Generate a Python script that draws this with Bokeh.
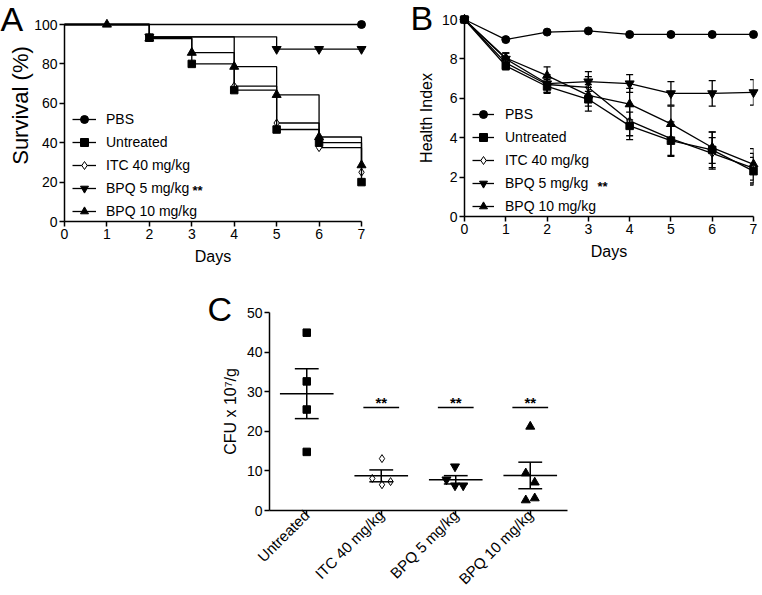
import math
from bokeh.plotting import figure
from bokeh.models import (ColumnDataSource, Legend, LegendItem, Whisker, TeeHead,
                          FixedTicker, Range1d, Spacer)
from bokeh.layouts import column, row
from bokeh.embed import file_html
from bokeh.resources import INLINE
from bokeh.core.properties import value

FONT = "Liberation Sans"

# ---------------- Panel A: survival (%) ----------------
days = [0, 1, 2, 3, 4, 5, 6, 7]
series_labels = ["PBS", "Untreated", "ITC 40 mg/kg", "BPQ 5 mg/kg", "BPQ 10 mg/kg"]
surv_pbs = [100, 100, 100, 100, 100, 100, 100, 100]
surv_unt = [100, 100, 93.3, 80.0, 66.7, 46.7, 40.0, 20.0]
surv_itc = [100, 100, 93.75, 93.75, 68.75, 50.0, 37.5, 25.0]
surv_bpq5 = [100, 100, 93.75, 93.75, 93.75, 87.5, 87.5, 87.5]
surv_bpq10 = [100, 100, 92.9, 85.7, 78.6, 64.3, 42.9, 28.6]
mark_days_pbs = [7]
mark_days_unt = [2, 3, 4, 5, 6, 7]
mark_days_itc = [2, 4, 5, 6, 7]
mark_days_bpq5 = [2, 5, 6, 7]
mark_days_bpq10 = [1, 2, 3, 4, 5, 6, 7]
surv_ticks = [0, 20, 40, 60, 80, 100]

# ---------------- Panel B: health index ----------------
hi_pbs = [10, 8.98, 9.36, 9.42, 9.24, 9.24, 9.24, 9.24]
hi_unt = [10, 7.65, 6.6, 5.95, 4.6, 3.85, 3.38, 2.3]
hi_unt_err = [0, 0.2, 0.35, 0.6, 0.7, 0.8, 0.9, 0.7]
hi_itc = [10, 7.8, 6.7, 6.55, 4.85, 3.95, 3.2, 2.45]
hi_itc_err = [0, 0.2, 0.4, 0.55, 0.75, 0.85, 0.8, 0.75]
hi_bpq5 = [10, 8.0, 6.75, 6.85, 6.75, 6.25, 6.25, 6.3]
hi_bpq5_err = [0, 0.3, 0.45, 0.5, 0.45, 0.6, 0.65, 0.65]
hi_bpq10 = [10, 8.05, 7.15, 6.15, 5.7, 4.7, 3.5, 2.65]
hi_bpq10_err = [0, 0.25, 0.45, 0.55, 0.8, 0.9, 0.8, 0.8]
hi_ticks = [0, 2, 4, 6, 8, 10]

# ---------------- Panel C: CFU ----------------
groups = ["Untreated", "ITC 40 mg/kg", "BPQ 5 mg/kg", "BPQ 10 mg/kg"]
cfu_unt = [44.9, 32.6, 25.5, 14.8]
cfu_itc = [13.1, 8.1, 6.5, 7.3]
cfu_bpq5 = [11.1, 7.8, 6.3, 6.3]
cfu_bpq10 = [21.2, 9.4, 7.1, 2.6, 3.1]
jit_unt = [0, 0, 0, 0]
jit_itc = [0.01, -0.12, 0.01, 0.125]
jit_bpq5 = [-0.01, -0.125, -0.01, 0.1]
jit_bpq10 = [0, -0.06, 0.06, -0.06, 0.06]
cfu_mean = [29.5, 8.75, 7.75, 8.85]
cfu_sem = [6.3, 1.5, 1.05, 3.35]
sig_groups = [1, 2, 3]
sig_level = [26.0, 26.0, 26.0]
sig_text = ["**", "**", "**"]
cfu_ticks = [0, 10, 20, 30, 40, 50]

MARKERS = [
    dict(marker="circle", size=8, fill_color="black"),
    dict(marker="square", size=7.5, fill_color="black"),
    dict(marker="diamond", size=8, fill_color="white"),
    dict(marker="inverted_triangle", size=9, fill_color="black"),
    dict(marker="triangle", size=9, fill_color="black"),
]


def style(p, xticks, yticks):
    for ax in p.axis:
        ax.axis_line_width = 1.5
        ax.axis_line_color = "black"
        ax.major_tick_line_width = 1.5
        ax.major_tick_line_color = "black"
        ax.major_tick_out = 5
        ax.major_tick_in = 0
        ax.minor_tick_out = 0
        ax.minor_tick_in = 0
        ax.major_label_text_font = FONT
        ax.major_label_text_font_size = "14px"
        ax.major_label_text_color = "black"
        ax.major_label_standoff = 2
        ax.axis_label_text_font = FONT
        ax.axis_label_text_font_size = "16px"
        ax.axis_label_text_font_style = "normal"
        ax.axis_label_text_color = "black"
        ax.axis_label_standoff = 6
    p.xaxis.ticker = FixedTicker(ticks=xticks)
    p.yaxis.ticker = FixedTicker(ticks=yticks)
    p.xgrid.visible = False
    p.ygrid.visible = False
    p.outline_line_color = None
    p.background_fill_color = None
    p.border_fill_color = None


def make_legend(items, x, y, glyph_w, standoff):
    return Legend(items=items, location=(x, y), padding=0, margin=0, spacing=3,
                  glyph_width=glyph_w, glyph_height=20, label_height=20,
                  label_standoff=standoff, border_line_color=None,
                  background_fill_alpha=0, label_text_font=FONT,
                  label_text_font_size="14px", label_text_color="black")


def to_data(geom, px, py):
    """convert a pixel position on the panel canvas to data units of that panel"""
    fl, fb, fw, fh, x0, x1, y0, y1 = geom
    return (x0 + (px - fl) * (x1 - x0) / fw, y0 + (fb - py) * (y1 - y0) / fh)


def add_text(p, geom, txt, px, py, size, bold=False, angle=0.0, align="left", baseline="alphabetic"):
    x, y = to_data(geom, px, py)
    p.text(x=[x], y=[y], text=[txt], text_font=value(FONT), text_font_size=size,
           text_font_style="bold" if bold else "normal", text_color="black",
           text_baseline=baseline, text_align=align, angle=angle, level="overlay")


# ================= Panel A =================
# frame: left 64, top 24, 297 x 197 on a 400 x 290 canvas
geomA = (64, 221, 297, 197, 0, 7, 0, 100)
pA = figure(frame_width=297, frame_height=197, x_range=Range1d(0, 7), y_range=Range1d(0, 100),
            min_border_left=64, min_border_right=39, min_border_top=24, min_border_bottom=69,
            output_backend="svg", toolbar_location=None)
style(pA, days, surv_ticks)
pA.xaxis.axis_label = "Days"

surv_all = [surv_pbs, surv_unt, surv_itc, surv_bpq5, surv_bpq10]
mark_all = [mark_days_pbs, mark_days_unt, mark_days_itc, mark_days_bpq5, mark_days_bpq10]
itemsA = {}
for i in [0, 3, 4, 2, 1]:
    r = pA.step(days, surv_all[i], mode="after", line_width=1.3, line_color="black", level="overlay")
    md = mark_all[i]
    s = pA.scatter(md, [surv_all[i][d] for d in md], line_color="black", line_width=1,
                   level="overlay", **MARKERS[i])
    itemsA[i] = LegendItem(label=series_labels[i], renderers=[r, s])
pA.add_layout(make_legend([itemsA[i] for i in range(5)], 8, 0, 24, 10))
add_text(pA, geomA, "A", 0, 18, "34px")
add_text(pA, geomA, "Survival (%)", 20, 105, "22px", angle=math.pi / 2,
         align="center", baseline="middle")
add_text(pA, geomA, "**", 192, 190, "13px", bold=True)

# ================= Panel B =================
# frame: left 64, top 19, 289 x 197 on a 362 x 290 canvas (canvas starts at x=400)
geomB = (64, 216, 289, 197, 0, 7, 0, 10)
pB = figure(frame_width=289, frame_height=197, x_range=Range1d(0, 7), y_range=Range1d(0, 10),
            min_border_left=64, min_border_right=9, min_border_top=19, min_border_bottom=74,
            output_backend="svg", toolbar_location=None)
style(pB, days, hi_ticks)
pB.xaxis.axis_label = "Days"
pB.yaxis.axis_label = "Health Index"
pB.yaxis.axis_label_standoff = 4

hi_all = [hi_pbs, hi_unt, hi_itc, hi_bpq5, hi_bpq10]
err_all = [None, hi_unt_err, hi_itc_err, hi_bpq5_err, hi_bpq10_err]
itemsB = {}
for i in [0, 3, 4, 2, 1]:
    vals = hi_all[i]
    if err_all[i] is not None:
        e = err_all[i]
        src = ColumnDataSource(dict(x=days, upper=[v + d for v, d in zip(vals, e)],
                                    lower=[v - d for v, d in zip(vals, e)]))
        w = Whisker(base="x", upper="upper", lower="lower", source=src, line_width=1.3,
                    line_color="black", level="overlay",
                    upper_head=TeeHead(size=7, line_width=1.3, line_color="black"),
                    lower_head=TeeHead(size=7, line_width=1.3, line_color="black"))
        pB.add_layout(w)
    r = pB.line(days, vals, line_width=1.3, line_color="black", level="overlay")
    s = pB.scatter(days, vals, line_color="black", line_width=1, level="overlay", **MARKERS[i])
    itemsB[i] = LegendItem(label=series_labels[i], renderers=[r, s])
pB.add_layout(make_legend([itemsB[i] for i in range(5)], 8, 0, 22, 11))
add_text(pB, geomB, "B", 10, 17, "34px")
add_text(pB, geomB, "**", 197, 186, "13px", bold=True)

# ================= Panel C =================
# frame: left 81, top 22, 298 x 198 on a 401 x 300 canvas (canvas starts at x=188, y=290)
geomC = (81, 220, 298, 198, -0.5, 3.5, 0, 50)
pC = figure(frame_width=298, frame_height=198, x_range=Range1d(-0.5, 3.5), y_range=Range1d(0, 50),
            min_border_left=81, min_border_right=22, min_border_top=22, min_border_bottom=80,
            output_backend="svg", toolbar_location=None)
style(pC, [0, 1, 2, 3], cfu_ticks)
pC.yaxis.axis_label = "CFU x 10\u2077/g"
pC.yaxis.axis_label_standoff = 5
pC.xaxis.major_label_overrides = {i: g for i, g in enumerate(groups)}
pC.xaxis.major_label_orientation = math.pi / 4
pC.xaxis.major_label_text_font_size = "15px"
pC.xaxis.major_label_standoff = -3

cfu_all = [cfu_unt, cfu_itc, cfu_bpq5, cfu_bpq10]
jit_all = [jit_unt, jit_itc, jit_bpq5, jit_bpq10]
mk_c = [MARKERS[1], MARKERS[2], MARKERS[3], MARKERS[4]]
for g in range(4):
    xs = [g + j for j in jit_all[g]]
    pC.scatter(xs, cfu_all[g], line_color="black", line_width=1, level="overlay", **mk_c[g])

MEAN_HW = 0.36
CAP_HW = 0.16
gx = list(range(4))
pC.segment(x0=[x - MEAN_HW for x in gx], x1=[x + MEAN_HW for x in gx], y0=cfu_mean, y1=cfu_mean,
           line_width=1.5, line_color="black", level="overlay")
up = [m + s for m, s in zip(cfu_mean, cfu_sem)]
lo = [m - s for m, s in zip(cfu_mean, cfu_sem)]
pC.segment(x0=gx, x1=gx, y0=lo, y1=up, line_width=1.5, line_color="black", level="overlay")
pC.segment(x0=[x - CAP_HW for x in gx], x1=[x + CAP_HW for x in gx], y0=up, y1=up,
           line_width=1.5, line_color="black", level="overlay")
pC.segment(x0=[x - CAP_HW for x in gx], x1=[x + CAP_HW for x in gx], y0=lo, y1=lo,
           line_width=1.5, line_color="black", level="overlay")

SIG_HW = 0.24
pC.segment(x0=[x - SIG_HW for x in sig_groups], x1=[x + SIG_HW for x in sig_groups],
           y0=sig_level, y1=sig_level, line_width=1.5, line_color="black", level="overlay")
pC.text(x=sig_groups, y=sig_level, text=sig_text, text_align="center", text_baseline="alphabetic",
        y_offset=-5, text_font=value(FONT), text_font_size="15px", text_font_style="bold",
        text_color="black", level="overlay")
add_text(pC, geomC, "C", 19, 18, "34px")

layout = column(row(pA, column(pB)), row(Spacer(width=188, height=10), pC))
open("out.html", "w").write(file_html(layout, INLINE))
